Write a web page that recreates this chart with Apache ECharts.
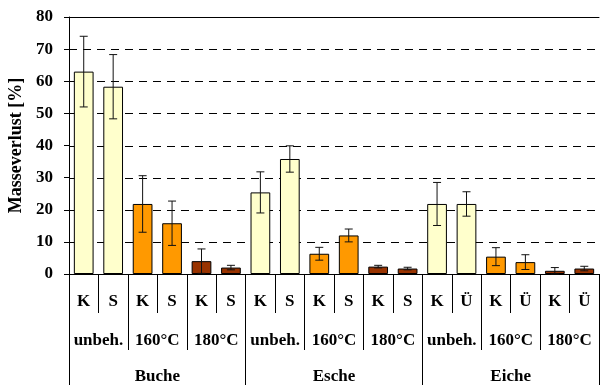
<!DOCTYPE html>
<html><head><meta charset="utf-8">
<script src="https://cdn.jsdelivr.net/npm/echarts@6/dist/echarts.min.js"></script>
<style>html,body{margin:0;padding:0;background:#fff}#c{width:600px;height:385px}</style>
</head><body><div id="c"></div>
<script>
var species = ['Buche', 'Esche', 'Eiche'];
var treatments = ['unbeh.', '160°C', '180°C', 'unbeh.', '160°C', '180°C', 'unbeh.', '160°C', '180°C'];
var types = ['K','S','K','S','K','S', 'K','S','K','S','K','S', 'K','Ü','K','Ü','K','Ü'];
var values = [63, 58.3, 21.8, 15.8, 4.0, 2.0, 25.4, 35.8, 6.3, 12.0, 2.3, 1.7, 21.8, 21.8, 5.4, 3.7, 1.0, 1.7];
var errors = [11, 10, 8.8, 6.9, 3.8, 0.7, 6.4, 4.1, 2.0, 2.0, 0.4, 0.4, 6.7, 3.8, 2.8, 2.3, 1.0, 0.7];
var yTicks = [0, 10, 20, 30, 40, 50, 60, 70, 80];
var treatmentColors = {'unbeh.': '#FFFFCC', '160°C': '#FF9900', '180°C': '#993300'};

var font = 'Liberation Serif';
var chart = echarts.init(document.getElementById('c'));
var barData = values.map(function (v, i) {
  var t = treatments[Math.floor(i / 2)];
  return {value: v, itemStyle: {color: treatmentColors[t]}};
});
var errData = values.map(function (v, i) { return [i, v, errors[i]]; });
var gridData = yTicks.slice(1, yTicks.length - 1).map(function (y) { return [0, y]; });

function catAxis(data, tickLen, margin, showLine) {
  return {
    type: 'category', data: data, position: 'bottom', gridIndex: 0,
    axisLine: {show: showLine, lineStyle: {color: '#000', width: 1}},
    axisTick: {show: true, length: tickLen, interval: 0, lineStyle: {color: '#000', width: 1}},
    axisLabel: {interval: 0, margin: margin, color: '#000', fontFamily: font, fontWeight: 'bold', fontSize: 17},
    splitLine: {show: false}
  };
}

chart.setOption({
  animation: false,
  backgroundColor: '#fff',
  grid: {left: 69, right: 1, top: 17, bottom: 111, containLabel: false, outerBoundsMode: 'none'},
  xAxis: [
    catAxis(types, 39, 19, true),
    catAxis(treatments, 76, 58, false),
    catAxis(species, 111, 94, false),
    {type: 'category', data: types, position: 'top', axisLine: {show: true, lineStyle: {color: '#000'}},
     axisTick: {show: false}, axisLabel: {show: false}}
  ],
  yAxis: {
    type: 'value', min: yTicks[0], max: yTicks[yTicks.length - 1], interval: 10,
    name: 'Masseverlust [%]', nameLocation: 'middle', nameGap: 42, nameRotate: 90,
    nameTextStyle: {color: '#000', fontFamily: font, fontWeight: 'bold', fontSize: 18},
    axisLine: {show: true, lineStyle: {color: '#000'}},
    axisTick: {show: true, length: 5, lineStyle: {color: '#000'}},
    axisLabel: {margin: 16, color: '#000', fontFamily: font, fontWeight: 'bold', fontSize: 17},
    splitLine: {show: false}
  },
  series: [
    {type: 'custom', xAxisIndex: 0, data: gridData, z: 1, silent: true,
     renderItem: function (params, api) {
       var p = api.coord([0, api.value(1)]);
       var cs = params.coordSys;
       var y = Math.round(p[1]) + 0.5;
       return {type: 'line', shape: {x1: cs.x, y1: y, x2: cs.x + cs.width, y2: y},
         style: {stroke: '#000', lineWidth: 1, lineDash: [8, 6]}};
     }},
    {type: 'bar', xAxisIndex: 0, data: barData, barWidth: '67%', z: 3,
     itemStyle: {borderColor: '#000', borderWidth: 1}},
    {type: 'custom', xAxisIndex: 0, data: errData, z: 10,
     renderItem: function (params, api) {
       var x = api.value(0), v = api.value(1), e = api.value(2);
       var top = api.coord([x, v + e]);
       var bot = api.coord([x, Math.max(v - e, 0)]);
       var h = 4;
       var st = {stroke: '#111', lineWidth: 1};
       return {type: 'group', children: [
         {type: 'line', shape: {x1: top[0], y1: top[1], x2: bot[0], y2: bot[1]}, style: st},
         {type: 'line', shape: {x1: top[0] - h, y1: top[1], x2: top[0] + h, y2: top[1]}, style: st},
         {type: 'line', shape: {x1: bot[0] - h, y1: bot[1], x2: bot[0] + h, y2: bot[1]}, style: st}
       ]};
     }}
  ]
});
</script></body></html>
